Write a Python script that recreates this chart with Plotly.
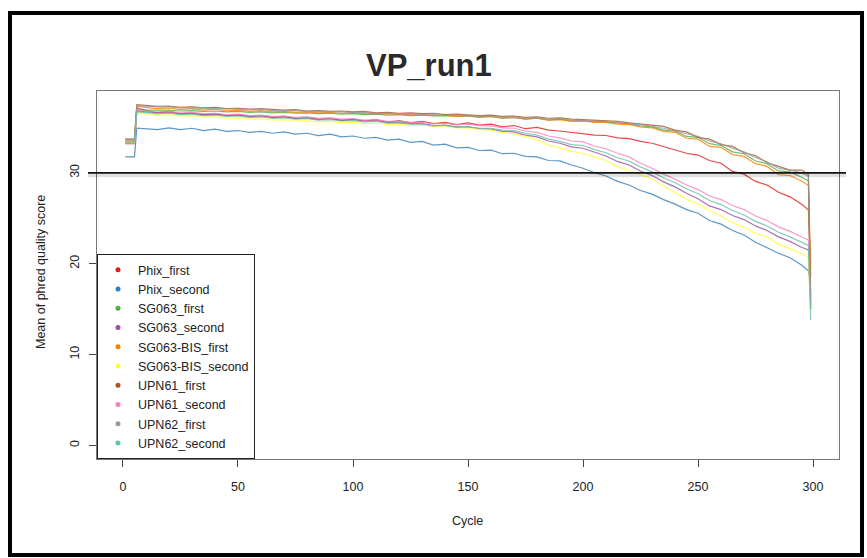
import plotly.graph_objects as go

# Sequencing cycles at which the mean quality was recorded
cycles = [1, 5, 6] + list(range(10, 300, 5)) + [298, 299]

series_names = [
    "Phix_first", "Phix_second", "SG063_first", "SG063_second",
    "SG063-BIS_first", "SG063-BIS_second", "UPN61_first", "UPN61_second",
    "UPN62_first", "UPN62_second",
]
series_colors = [
    "#E41A1C", "#377EB8", "#4DAF4A", "#984EA3", "#FF7F00",
    "#FFFF33", "#A65628", "#F781BF", "#999999", "#66C2A5",
]

phix_first = [33.2, 33.2, 37.1,
    36.9, 36.6, 36.8, 36.45, 36.6, 36.35, 36.5, 36.25, 36.4, 36.15,
    36.3, 36.05, 36.2, 35.95, 36.1, 35.85, 36.0, 35.75, 35.9, 35.7,
    35.85, 35.55, 35.75, 35.5, 35.65, 35.4, 35.55, 35.3, 35.5, 35.25,
    35.35, 35.05, 35.2, 34.85, 35.0, 34.7, 34.6, 34.45, 34.35, 34.15,
    34.1, 33.85, 33.75, 33.45, 33.25, 32.9, 32.55, 32.15, 31.95, 31.35,
    31.05, 30.15, 29.85, 29.05, 28.65, 27.85, 27.35, 26.55,
    25.9, 18.6]
phix_second = [31.75, 31.75, 34.9,
    34.85, 34.75, 34.95, 34.75, 34.9, 34.65, 34.8, 34.55, 34.65, 34.45,
    34.55, 34.35, 34.5, 34.25, 34.35, 34.1, 34.25, 33.95, 34.05, 33.8,
    33.9, 33.6, 33.7, 33.35, 33.45, 33.05, 33.15, 32.75, 32.8, 32.45,
    32.5, 32.1, 32.15, 31.8, 31.75, 31.35, 31.3, 30.85, 30.5, 30.0,
    29.65, 29.05, 28.65, 28.05, 27.65, 27.05, 26.55, 25.95, 25.55, 24.75,
    24.35, 23.65, 23.15, 22.35, 21.75, 21.15, 20.65, 19.85,
    19.2, 18.0]
sg063_first = [33.5, 33.5, 36.9,
    36.9, 36.85, 36.9, 36.8, 36.85, 36.75, 36.8, 36.7, 36.75, 36.65,
    36.7, 36.6, 36.65, 36.55, 36.6, 36.5, 36.55, 36.45, 36.5, 36.4,
    36.45, 36.35, 36.4, 36.3, 36.35, 36.25, 36.3, 36.2, 36.25, 36.1,
    36.2, 36.0, 36.1, 35.9, 36.0, 35.8, 35.9, 35.7, 35.75, 35.6,
    35.6, 35.45, 35.4, 35.15, 35.05, 34.7, 34.6, 34.0, 33.9, 33.2,
    33.0, 32.3, 32.1, 31.3, 31.0, 30.2, 30.1, 29.5,
    29.1, 15.5]
sg063_second = [33.3, 33.3, 36.8,
    36.7, 36.6, 36.65, 36.5, 36.55, 36.4, 36.45, 36.3, 36.35, 36.2,
    36.25, 36.1, 36.15, 36.0, 36.05, 35.9, 35.95, 35.8, 35.85, 35.7,
    35.75, 35.55, 35.55, 35.4, 35.4, 35.2, 35.25, 35.05, 35.05, 34.85,
    34.8, 34.55, 34.5, 34.15, 33.95, 33.5, 33.25, 32.85, 32.7, 32.25,
    31.85, 31.25, 30.85, 30.2, 29.7, 29.0, 28.45, 27.75, 27.15, 26.35,
    25.95, 25.3, 24.85, 24.15, 23.65, 22.95, 22.45, 21.8,
    21.5, 15.0]
sg063_bis_first = [33.6, 33.6, 37.3,
    37.2, 37.05, 37.15, 36.95, 37.05, 36.9, 37.0, 36.8, 36.9, 36.75,
    36.85, 36.7, 36.75, 36.65, 36.7, 36.6, 36.65, 36.55, 36.6, 36.5,
    36.5, 36.45, 36.45, 36.4, 36.4, 36.3, 36.35, 36.2, 36.3, 36.15,
    36.2, 36.0, 36.1, 35.9, 36.0, 35.8, 35.85, 35.65, 35.7, 35.55,
    35.55, 35.35, 35.3, 35.05, 34.95, 34.55, 34.45, 33.8, 33.7, 32.9,
    32.8, 32.0, 31.8, 31.0, 30.7, 29.8, 29.7, 29.1,
    28.6, 19.5]
sg063_bis_second = [33.3, 33.3, 36.6,
    36.5, 36.35, 36.4, 36.25, 36.3, 36.15, 36.15, 36.0, 36.05, 35.9,
    35.95, 35.8, 35.85, 35.7, 35.75, 35.6, 35.65, 35.5, 35.55, 35.4,
    35.45, 35.3, 35.35, 35.2, 35.25, 35.1, 35.15, 34.95, 34.95, 34.75,
    34.7, 34.4, 34.3, 33.95, 33.65, 33.05, 32.75, 32.35, 32.15, 31.75,
    31.35, 30.65, 30.25, 29.75, 29.35, 28.55, 27.85, 27.1, 26.55, 25.85,
    25.25, 24.5, 24.0, 23.35, 22.95, 22.15, 21.65, 21.0,
    20.7, 14.5]
upn61_first = [33.7, 33.7, 37.5,
    37.4, 37.3, 37.35, 37.2, 37.25, 37.15, 37.2, 37.05, 37.1, 37.0,
    37.05, 36.95, 36.9, 36.95, 36.8, 36.85, 36.75, 36.8, 36.7, 36.75,
    36.6, 36.65, 36.55, 36.6, 36.5, 36.55, 36.4, 36.45, 36.4, 36.3,
    36.35, 36.2, 36.25, 36.1, 36.15, 36.0, 36.05, 35.9, 35.85, 35.8,
    35.7, 35.65, 35.5, 35.4, 35.25, 35.1, 34.7, 34.5, 33.9, 33.7,
    33.1, 32.9, 32.2, 31.9, 31.1, 30.7, 30.3, 30.3,
    29.8, 16.5]
upn61_second = [33.4, 33.4, 36.9,
    36.8, 36.7, 36.75, 36.6, 36.65, 36.5, 36.55, 36.4, 36.45, 36.3,
    36.35, 36.2, 36.25, 36.1, 36.15, 36.0, 36.05, 35.9, 35.95, 35.8,
    35.85, 35.65, 35.7, 35.55, 35.55, 35.4, 35.45, 35.3, 35.35, 35.2,
    35.15, 34.95, 34.9, 34.6, 34.45, 34.05, 33.85, 33.5, 33.4, 32.95,
    32.65, 32.15, 31.75, 31.05, 30.5, 29.85, 29.3, 28.65, 28.15, 27.45,
    27.05, 26.4, 25.95, 25.25, 24.75, 24.05, 23.55, 22.9,
    22.6, 16.0]
upn62_first = [33.7, 33.7, 37.4,
    37.3, 37.25, 37.25, 37.15, 37.15, 37.1, 37.1, 37.0, 37.0, 36.95,
    36.95, 36.85, 36.85, 36.85, 36.75, 36.75, 36.7, 36.7, 36.6, 36.65,
    36.5, 36.55, 36.45, 36.5, 36.4, 36.45, 36.3, 36.35, 36.3, 36.2,
    36.25, 36.1, 36.15, 36.0, 36.05, 35.9, 35.95, 35.8, 35.75, 35.7,
    35.6, 35.55, 35.4, 35.3, 35.1, 34.9, 34.6, 34.3, 34.0, 33.5,
    33.2, 32.7, 32.3, 31.7, 31.2, 30.5, 30.3, 30.0,
    29.6, 15.0]
upn62_second = [33.4, 33.4, 36.7,
    36.6, 36.5, 36.55, 36.4, 36.45, 36.3, 36.35, 36.2, 36.25, 36.1,
    36.15, 36.0, 36.05, 35.9, 35.95, 35.8, 35.85, 35.7, 35.75, 35.6,
    35.65, 35.45, 35.5, 35.35, 35.35, 35.15, 35.2, 35.0, 35.05, 34.9,
    34.9, 34.7, 34.65, 34.35, 34.15, 33.7, 33.45, 33.1, 33.0, 32.55,
    32.2, 31.65, 31.3, 30.65, 30.1, 29.45, 28.9, 28.25, 27.7, 26.95,
    26.5, 25.85, 25.35, 24.65, 24.15, 23.45, 22.95, 22.3,
    22.0, 13.8]

series_values = [
    phix_first, phix_second, sg063_first, sg063_second, sg063_bis_first,
    sg063_bis_second, upn61_first, upn61_second, upn62_first, upn62_second,
]
for vals in series_values:
    assert len(vals) == len(cycles), len(vals)

x_ticks = [0, 50, 100, 150, 200, 250, 300]
y_ticks = [0, 10, 20, 30]
threshold = 30

W, H = 867, 558
ML, MR, MT, MB = 97, 28, 91, 99
PW, PH = W - ML - MR, H - MT - MB


def fx(px):
    return (px - ML) / PW


def fy(py):
    return (H - MB - py) / PH


FONT = "Liberation Sans, Arial, sans-serif"

fig = go.Figure()

for name, color, vals in zip(series_names, series_colors, series_values):
    fig.add_trace(go.Scatter(
        x=cycles, y=vals, mode="lines", name=name, showlegend=False,
        line=dict(color=color, width=1.2), opacity=0.8, hoverinfo="skip",
    ))

# legend entries drawn as small dots
for name, color in zip(series_names, series_colors):
    fig.add_trace(go.Scatter(
        x=[None], y=[None], mode="markers", name=name,
        marker=dict(color=color, size=5),
    ))

shapes = [
    # soft shadow under the threshold line
    dict(type="line", xref="paper", yref="y", x0=fx(88), x1=fx(846),
         y0=threshold - 0.28, y1=threshold - 0.28,
         line=dict(color="rgba(0,0,0,0.12)", width=4), layer="above"),
    dict(type="line", xref="paper", yref="y", x0=fx(88), x1=fx(846),
         y0=threshold, y1=threshold,
         line=dict(color="#111111", width=1.8), layer="above"),
    # outer frame
    dict(type="rect", xref="paper", yref="paper",
         x0=fx(10), x1=fx(862), y0=fy(555), y1=fy(13),
         line=dict(color="#000000", width=4), fillcolor="rgba(0,0,0,0)",
         layer="below"),
]

annotations = [
    dict(text="<b>VP_run1</b>", xref="paper", yref="paper", x=fx(429), y=fy(65),
         xanchor="center", yanchor="middle", showarrow=False,
         font=dict(family=FONT, size=31, color="#2a2a2a")),
    dict(text="Cycle", xref="paper", yref="paper", x=fx(467), y=fy(521),
         xanchor="center", yanchor="middle", showarrow=False,
         font=dict(family=FONT, size=12.5, color="#222222")),
    dict(text="Mean of phred quality score", xref="paper", yref="paper",
         x=fx(41), y=fy(272), xanchor="center", yanchor="middle",
         textangle=-90, showarrow=False,
         font=dict(family=FONT, size=12.5, color="#222222")),
]

axis_common = dict(
    showgrid=False, zeroline=False, showline=True, mirror=True,
    linecolor="#777777", linewidth=1, ticks="outside", ticklen=7,
    tickcolor="#444444", tickwidth=1,
    tickfont=dict(family=FONT, size=12.5, color="#222222"),
)

fig.update_layout(
    width=W, height=H,
    margin=dict(l=ML, r=MR, t=MT, b=MB, pad=0),
    paper_bgcolor="white", plot_bgcolor="white",
    xaxis=dict(range=[-11.3, 311.3], tickvals=x_ticks, ticklabelstandoff=9,
               **axis_common),
    yaxis=dict(range=[-1.5, 39], tickvals=y_ticks, tickangle=-90,
               ticklabelstandoff=5, **axis_common),
    legend=dict(x=0, y=0, xanchor="left", yanchor="bottom",
                bgcolor="white", bordercolor="#222222", borderwidth=1,
                font=dict(family=FONT, size=12.5, color="#222222"),
                itemsizing="trace", tracegroupgap=0),
    shapes=shapes, annotations=annotations,
)

fig.write_html("out.html")
